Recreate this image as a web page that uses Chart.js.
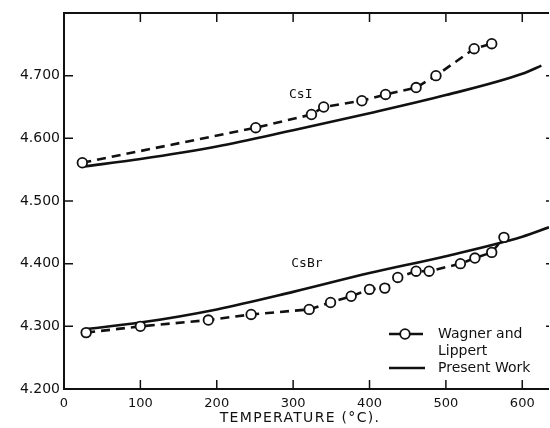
<!DOCTYPE html>
<html>
<head>
<meta charset="utf-8">
<script src="https://cdn.jsdelivr.net/npm/chart.js@4.4.1/dist/chart.umd.min.js"></script>
<style>
  body { margin: 0; background: #fff; }
  #wrap { width: 550px; height: 428px; }
</style>
</head>
<body>
<div id="wrap"><canvas id="lattice"></canvas></div>
<script>
// Wagner and Lippert measurements (temperature °C, lattice value)
const csiWagnerT = [24, 251, 324, 340, 390, 421, 461, 487, 537, 560];
const csiWagnerV = [4.561, 4.617, 4.638, 4.650, 4.660, 4.670, 4.681, 4.700, 4.743, 4.751];
const csbrWagnerT = [29, 100, 189, 245, 321, 349, 376, 400, 420, 437, 461, 478, 519, 538, 560, 576];
const csbrWagnerV = [4.290, 4.300, 4.310, 4.319, 4.327, 4.338, 4.348, 4.359, 4.361, 4.378, 4.388, 4.388, 4.400, 4.409, 4.418, 4.442];

// Present work curves
const csiPresentT = [25, 100, 200, 300, 400, 500, 600, 625];
const csiPresentV = [4.555, 4.567, 4.587, 4.613, 4.640, 4.669, 4.703, 4.716];
const csbrPresentT = [25, 100, 200, 300, 400, 500, 600, 635];
const csbrPresentV = [4.295, 4.306, 4.327, 4.355, 4.385, 4.412, 4.443, 4.458];

const xTicks = [0, 100, 200, 300, 400, 500, 600];
const yTicks = [4.2, 4.3, 4.4, 4.5, 4.6, 4.7];

const pts = (xs, ys) => xs.map((x, i) => ({ x: x, y: ys[i] }));

const wagnerStyle = {
  borderColor: "#111",
  borderWidth: 2.6,
  borderDash: [9, 6],
  pointStyle: "circle",
  pointRadius: 4.8,
  pointBorderWidth: 1.8,
  pointBackgroundColor: "#fff",
  pointBorderColor: "#111",
  tension: 0,
};
const presentStyle = {
  borderColor: "#111",
  borderWidth: 2.6,
  pointRadius: 0,
  cubicInterpolationMode: "monotone",
};

// frame, inward ticks, labels and legend
const annotate = {
  id: "annotate",
  afterDraw(chart) {
    const { ctx, chartArea: a, scales } = chart;
    const xs = scales.x, ys = scales.y;
    ctx.save();
    ctx.strokeStyle = "#111";
    ctx.lineWidth = 2;
    ctx.beginPath();
    ctx.moveTo(a.right, a.top); ctx.lineTo(a.left, a.top);
    ctx.lineTo(a.left, a.bottom); ctx.lineTo(a.right, a.bottom);
    ctx.stroke();

    ctx.lineWidth = 1.5;
    xTicks.forEach(t => {
      if (t === 0) return;
      const px = xs.getPixelForValue(t);
      ctx.beginPath();
      ctx.moveTo(px, a.bottom); ctx.lineTo(px, a.bottom - 9);
      ctx.moveTo(px, a.top); ctx.lineTo(px, a.top + 9);
      ctx.stroke();
    });
    yTicks.forEach(t => {
      const py = ys.getPixelForValue(t);
      ctx.beginPath();
      ctx.moveTo(a.left, py); ctx.lineTo(a.left + 9, py);
      ctx.moveTo(a.right, py); ctx.lineTo(a.right - 3, py);
      ctx.stroke();
    });

    ctx.fillStyle = "#111";
    ctx.font = "13px 'DejaVu Sans Mono'";
    ctx.textAlign = "center";
    ctx.textBaseline = "middle";
    ctx.fillText("CsI", xs.getPixelForValue(310), ys.getPixelForValue(4.670));
    ctx.fillText("CsBr", xs.getPixelForValue(318), ys.getPixelForValue(4.400));

    ctx.font = "14px 'DejaVu Sans'";
    ctx.letterSpacing = "1.3px";
    ctx.fillText("TEMPERATURE (°C).", 300, 418);
    ctx.letterSpacing = "0px";

    // legend
    ctx.textAlign = "left";
    ctx.font = "14px 'DejaVu Sans'";
    ctx.fillText("Wagner and", 438, 334);
    ctx.fillText("Lippert", 438, 351);
    ctx.fillText("Present Work", 438, 368);
    ctx.lineWidth = 2.4;
    ctx.beginPath();
    ctx.moveTo(389, 334); ctx.lineTo(400, 334);
    ctx.moveTo(410, 334); ctx.lineTo(423, 334);
    ctx.stroke();
    ctx.lineWidth = 1.8;
    ctx.beginPath();
    ctx.arc(405, 334, 4.8, 0, Math.PI * 2);
    ctx.fillStyle = "#fff";
    ctx.fill();
    ctx.stroke();
    ctx.lineWidth = 2.6;
    ctx.beginPath();
    ctx.moveTo(389, 368); ctx.lineTo(425, 368);
    ctx.stroke();
    ctx.restore();
  },
};

new Chart(document.getElementById("lattice").getContext("2d"), {
  type: "line",
  data: {
    datasets: [
      { label: "CsI Wagner and Lippert", data: pts(csiWagnerT, csiWagnerV), ...wagnerStyle },
      { label: "CsI Present Work", data: pts(csiPresentT, csiPresentV), ...presentStyle },
      { label: "CsBr Wagner and Lippert", data: pts(csbrWagnerT, csbrWagnerV), ...wagnerStyle },
      { label: "CsBr Present Work", data: pts(csbrPresentT, csbrPresentV), ...presentStyle },
    ],
  },
  options: {
    responsive: true,
    maintainAspectRatio: false,
    animation: false,
    layout: { autoPadding: false, padding: { top: 13, right: 1, left: 0, bottom: 0 } },
    plugins: {
      legend: { display: false },
      tooltip: { enabled: false },
    },
    scales: {
      x: {
        type: "linear",
        min: 0,
        max: 635,
        grid: { display: false, tickLength: 0 },
        border: { display: false },
        afterFit(scale) {
          scale.height = 39;
          scale.paddingLeft = 0;
          scale.paddingRight = 0;
        },
        afterBuildTicks(scale) { scale.ticks = xTicks.map(v => ({ value: v })); },
        ticks: {
          color: "#111",
          padding: 7,
          maxRotation: 0,
          font: { family: "DejaVu Sans", size: 13 },
          callback: v => String(v),
        },
      },
      y: {
        type: "linear",
        min: 4.2,
        max: 4.8,
        grid: { display: false, tickLength: 0 },
        border: { display: false },
        afterFit(scale) {
          scale.width = 64;
          scale.paddingTop = 0;
          scale.paddingBottom = 0;
        },
        afterBuildTicks(scale) { scale.ticks = yTicks.map(v => ({ value: v })); },
        ticks: {
          color: "#111",
          padding: 4,
          font: { family: "DejaVu Sans", size: 14 },
          callback: v => v.toFixed(3),
        },
      },
    },
  },
  plugins: [annotate],
});
</script>
</body>
</html>
